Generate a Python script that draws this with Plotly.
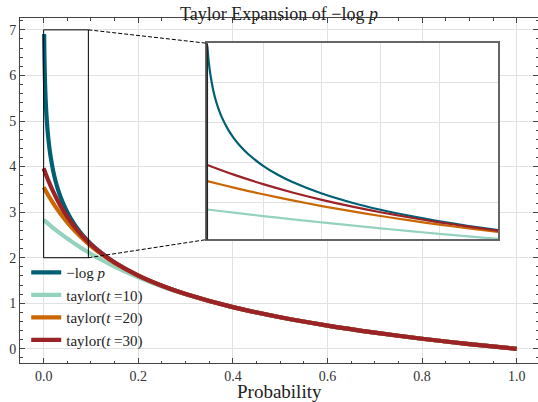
import plotly.graph_objects as go

# ---- data ----
p_log = [0.001, 0.0015, 0.002, 0.003, 0.004, 0.005, 0.006, 0.008, 0.01, 0.0125,
         0.015, 0.02, 0.025, 0.03, 0.04, 0.05, 0.06, 0.07, 0.08, 0.09, 0.1,
         0.12, 0.15, 0.2, 0.25, 0.3, 0.35, 0.4, 0.5, 0.6, 0.7, 0.8, 0.9, 1.0]
neg_log = [6.908, 6.502, 6.215, 5.809, 5.521, 5.298, 5.116, 4.828, 4.605, 4.382,
           4.200, 3.912, 3.689, 3.507, 3.219, 2.996, 2.813, 2.659, 2.526, 2.408, 2.303,
           2.120, 1.897, 1.609, 1.386, 1.204, 1.050, 0.916, 0.693, 0.511, 0.357, 0.223, 0.105, 0.0]

p_tay = [0.0, 0.001, 0.01, 0.02, 0.03, 0.04, 0.05, 0.06, 0.07, 0.08, 0.09, 0.1,
         0.12, 0.15, 0.2, 0.25, 0.3, 0.4, 0.5, 0.6, 0.7, 0.8, 0.9, 1.0]
taylor_10 = [2.829, 2.820, 2.741, 2.656, 2.574, 2.496, 2.421, 2.348, 2.278, 2.211, 2.146, 2.084,
             1.966, 1.804, 1.568, 1.368, 1.196, 0.915, 0.693, 0.511, 0.357, 0.223, 0.105, 0.0]
taylor_20 = [3.548, 3.529, 3.366, 3.200, 3.047, 2.906, 2.777, 2.657, 2.546, 2.443, 2.347, 2.257,
             2.095, 1.887, 1.607, 1.386, 1.204, 0.916, 0.693, 0.511, 0.357, 0.223, 0.105, 0.0]
taylor_30 = [3.962, 3.933, 3.691, 3.454, 3.246, 3.062, 2.898, 2.751, 2.619, 2.499, 2.391, 2.291,
             2.115, 1.896, 1.609, 1.386, 1.204, 0.916, 0.693, 0.511, 0.357, 0.223, 0.105, 0.0]

x_ticks = [0.0, 0.2, 0.4, 0.6, 0.8, 1.0]
y_ticks = [0, 1, 2, 3, 4, 5, 6, 7]

series = [
    ("−log <i>p</i>", p_log, neg_log, "#005f73"),
    ("taylor(<i>t</i> =10)", p_tay, taylor_10, "#94d2bd"),
    ("taylor(<i>t</i> =20)", p_tay, taylor_20, "#ca6702"),
    ("taylor(<i>t</i> =30)", p_tay, taylor_30, "#9b2226"),
]

# ---- layout constants ----
FONT = "Liberation Serif"
X_RANGE = [-0.05, 1.045]
Y_RANGE = [-0.31, 7.26]
IN_X_DOM = [0.3616, 0.9228]
IN_Y_DOM = [0.358, 0.9267]
IN_X_RANGE = [0.001, 0.1]
IN_Y_RANGE = [2.07, 6.975]
ZOOM_X = [0.0, 0.0945]
ZOOM_Y = [2.0, 7.0]

fig = go.Figure()
for name, xs, ys, col in series:
    fig.add_trace(go.Scatter(x=xs, y=ys, mode="lines", name=name,
                             line=dict(color=col, width=4.2, shape="spline", smoothing=0.8),
                             xaxis="x", yaxis="y"))
for name, xs, ys, col in series:
    fig.add_trace(go.Scatter(x=xs, y=ys, mode="lines", name=name, showlegend=False,
                             line=dict(color=col, width=2.2, shape="spline", smoothing=0.8),
                             xaxis="x2", yaxis="y2"))

def to_paper(v, rng):
    return (v - rng[0]) / (rng[1] - rng[0])

def inset_paper(fx, fy):
    return (IN_X_DOM[0] + fx * (IN_X_DOM[1] - IN_X_DOM[0]),
            IN_Y_DOM[0] + fy * (IN_Y_DOM[1] - IN_Y_DOM[0]))

shapes = [dict(type="rect", xref="x", yref="y", x0=ZOOM_X[0], x1=ZOOM_X[1],
               y0=ZOOM_Y[0], y1=ZOOM_Y[1], line=dict(color="black", width=1))]
# connectors
for yv, fy in [(ZOOM_Y[1], 1.0), (ZOOM_Y[0], 0.0)]:
    px0 = to_paper(ZOOM_X[1], X_RANGE)
    py0 = to_paper(yv, Y_RANGE)
    px1, py1 = inset_paper(0.0, fy)
    shapes.append(dict(type="line", xref="paper", yref="paper", x0=px0, y0=py0, x1=px1, y1=py1,
                       line=dict(color="black", width=1, dash="4px,2px")))
# darker left edge of the inset frame
lx, ly0 = inset_paper(0.0, 0.0)
_, ly1 = inset_paper(0.0, 1.0)
shapes.append(dict(type="line", xref="paper", yref="paper", x0=lx, x1=lx, y0=ly0, y1=ly1,
                   line=dict(color="#222", width=1.5)))

axis_common = dict(showline=True, linecolor="#444", linewidth=1, mirror="ticks",
                   ticks="inside", ticklen=5, tickcolor="#444", showgrid=True,
                   gridcolor="#e2e2e2", gridwidth=1, zeroline=False, automargin=False,
                   tickfont=dict(family=FONT, size=14, color="#333"))

fig.update_layout(
    width=538, height=402,
    margin=dict(l=20, r=0, t=18, b=39, autoexpand=False),
    paper_bgcolor="white", plot_bgcolor="white",
    font=dict(family=FONT, color="#222"),
    title=dict(text="Taylor Expansion of −log <i>p</i>", x=0.5, xref="paper", xanchor="center",
               y=1 - 20 / 402, yref="container", yanchor="bottom",
               font=dict(family=FONT, size=18, color="#222")),
    xaxis=dict(range=X_RANGE, domain=[0, 1], anchor="y", tickvals=x_ticks, tickformat=".1f",
               minor=dict(ticks="inside", ticklen=2.5, dtick=0.05, tick0=0, tickcolor="#444", showgrid=False),
               **axis_common),
    yaxis=dict(range=Y_RANGE, domain=[0, 1], anchor="x", tickvals=y_ticks,
               minor=dict(ticks="inside", ticklen=2.5, dtick=0.2, tick0=0, tickcolor="#444", showgrid=False),
               **axis_common),
    xaxis2=dict(range=IN_X_RANGE, domain=IN_X_DOM, anchor="y2", dtick=0.02, tick0=0,
                showticklabels=False, ticks="", showgrid=True, gridcolor="#e2e2e2", automargin=False,
                showline=True, mirror=True, linecolor="#666", linewidth=1.5, zeroline=False),
    yaxis2=dict(range=IN_Y_RANGE, domain=IN_Y_DOM, anchor="x2", dtick=1, tick0=0,
                showticklabels=False, ticks="", showgrid=True, gridcolor="#e2e2e2", automargin=False,
                showline=True, mirror=True, linecolor="#666", linewidth=1.5, zeroline=False),
    legend=dict(x=0.012, y=0.02, xanchor="left", yanchor="bottom",
                bgcolor="rgba(0,0,0,0)", font=dict(family=FONT, size=15, color="#222"),
                tracegroupgap=0),
    annotations=[dict(text="Probability", xref="paper", yref="paper", x=0.5, y=-0.082,
                      xanchor="center", yanchor="middle", showarrow=False,
                      font=dict(family=FONT, size=19, color="#222"))],
    shapes=shapes,
    showlegend=True,
)

fig.write_html("out.html", config={"displayModeBar": False},
               post_script="document.body.style.margin='0';")
